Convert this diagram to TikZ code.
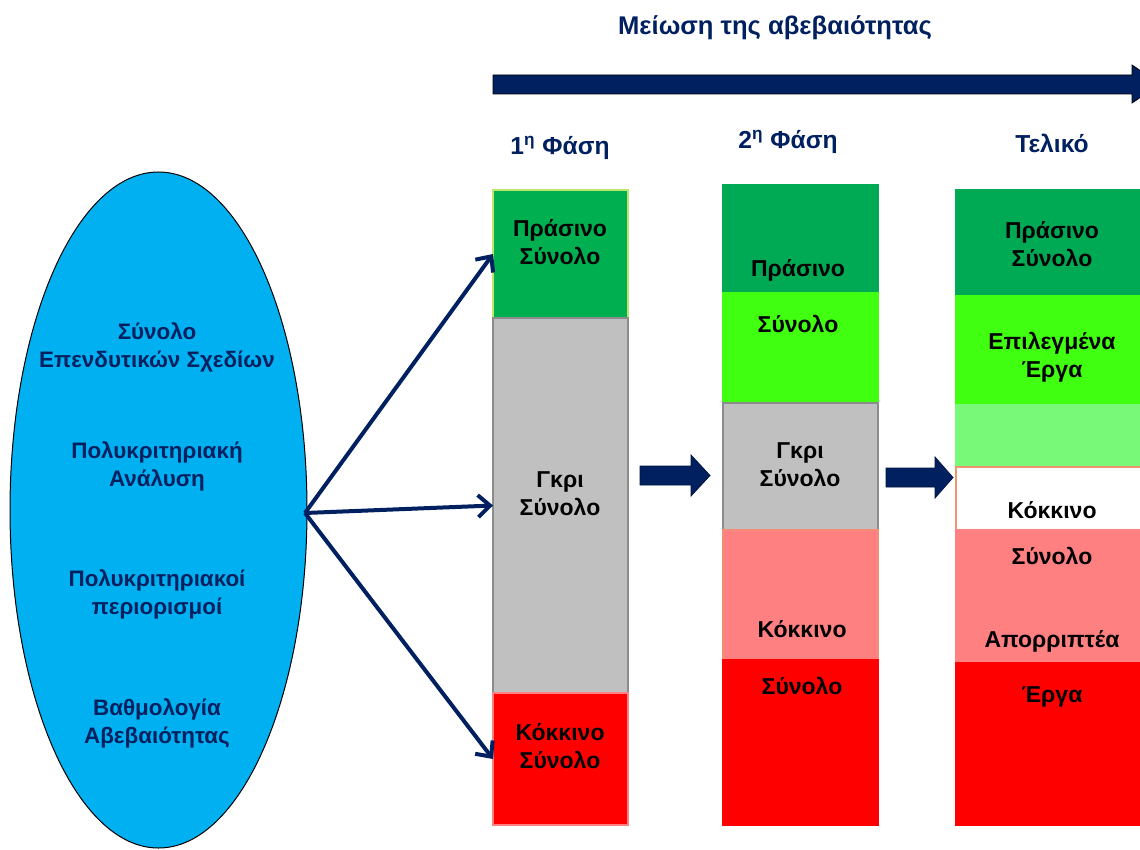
\documentclass[tikz,border=0pt]{standalone}
\usepackage{fontspec}
\setmainfont{Liberation Sans}
\usetikzlibrary{shapes.geometric,arrows.meta}

\definecolor{navy}{RGB}{0,32,96}
\definecolor{skyfill}{RGB}{0,176,240}
\definecolor{greenA}{RGB}{0,176,80}
\definecolor{greenB}{RGB}{0,170,84}
\definecolor{limegreen}{RGB}{64,255,16}
\definecolor{palegreen}{RGB}{120,250,120}
\definecolor{greyfill}{RGB}{192,192,192}
\definecolor{greyline}{RGB}{140,140,140}
\definecolor{salmon}{RGB}{255,128,128}
\definecolor{redfill}{RGB}{255,0,0}
\definecolor{tanline}{RGB}{235,150,110}
\definecolor{yelline}{RGB}{190,230,110}

% a block given by its corners (x1,y1) top-left and (x2,y2) bottom-right
\newcommand\blockrect[6]{%
  \node[blockbox,#6,anchor=north west,
        minimum width={(#4-#2)*0.5pt},minimum height={(#5-#3)*0.5pt}]
        (#1) at (#2,#3) {};}

\begin{document}
\begin{tikzpicture}[x=0.5pt,y=-0.5pt,
  blockbox/.style={rectangle,inner sep=0pt,outer sep=0pt,line width=0.6pt},
  lbl/.style={font=\bfseries\fontsize{11.5}{14}\selectfont,align=center,inner sep=0pt,text=black},
  navylbl/.style={lbl,text=navy,font=\bfseries\fontsize{12.3}{14}\selectfont},
  elllbl/.style={font=\bfseries\fontsize{11.2}{14}\selectfont,align=center,inner sep=0pt,text=navy},
  fan/.style={draw=navy,line width=2pt,-{Straight Barb[length=6pt,width=11pt,line width=2pt]}},
  blockarrow/.style={fill=navy,draw=navy!70!black,line width=0.4pt}]

\useasboundingbox (0,0) rectangle (1140,850);
\clip (0,0) rectangle (1140,850);

% heading and the long arrow under it
\node[navylbl,font=\bfseries\fontsize{12.8}{14}\selectfont] (title) at (775,28) {Μείωση της αβεβαιότητας};
\fill[navy,draw=black,line width=0.4pt]
  (493,75) -- (1132,75) -- (1132,65) -- (1160,84) -- (1132,103) -- (1132,94) -- (493,94) -- cycle;

\node[navylbl] (ph1) at (560,148) {1\textsuperscript{η} Φάση};
\node[navylbl] (ph2) at (788,142) {2\textsuperscript{η} Φάση};
\node[navylbl] (ph3) at (1052,143) {Τελικό};

% the set of plans
\node[ellipse,draw=black,line width=0.5pt,fill=skyfill,inner sep=0pt,
      minimum width=148.5pt,minimum height=338pt] (plans) at (158.5,510) {};
\node[elllbl] (e1) at (157,347) {Σύνολο\\Επενδυτικών Σχεδίων};
\node[elllbl] (e2) at (157,466) {Πολυκριτηριακή\\Ανάλυση};
\node[elllbl] (e3) at (157,594) {Πολυκριτηριακοί\\περιορισμοί};
\node[elllbl] (e4) at (157,723) {Βαθμολογία\\Αβεβαιότητας};
\coordinate (fanorigin) at (305,513);

% first phase
\blockrect{g1}{493}{190}{628}{318}{fill=greenA,draw=yelline}
\blockrect{y1}{493}{318}{628}{693}{fill=greyfill,draw=greyline}
\blockrect{r1}{493}{693}{628}{825}{fill=redfill,draw=salmon}

% second phase
\blockrect{g2}{723}{185}{878}{293}{fill=greenB,draw=greenB}
\blockrect{l2}{723}{293}{878}{403}{fill=limegreen,draw=limegreen}
\blockrect{y2}{723}{403}{878}{530}{fill=greyfill,draw=greyline}
\blockrect{s2}{723}{530}{878}{660}{fill=salmon,draw=tanline!60!salmon}
\blockrect{r2}{723}{660}{878}{825}{fill=redfill,draw=redfill}

% final result
\blockrect{g3}{956}{190}{1150}{296}{fill=greenB,draw=greenB}
\blockrect{l3}{956}{296}{1150}{405}{fill=limegreen,draw=limegreen}
\blockrect{p3}{956}{405}{1150}{467}{fill=palegreen,draw=palegreen}
\blockrect{w3}{956}{467}{1150}{530}{fill=white,draw=tanline}
\blockrect{s3}{956}{530}{1150}{663}{fill=salmon,draw=salmon}
\blockrect{r3}{956}{663}{1150}{825}{fill=redfill,draw=redfill}

% labels of the blocks
\node[lbl] (tg1) at (560,242) {Πράσινο\\Σύνολο};
\node[lbl] (ty1) at (560,494) {Γκρι\\Σύνολο};
\node[lbl] (tr1) at (560,746) {Κόκκινο\\Σύνολο};

\node[lbl] (tg2) at (798,270) {Πράσινο};
\node[lbl] (tl2) at (798,324) {Σύνολο};
\node[lbl] (ty2) at (800,465) {Γκρι\\Σύνολο};
\node[lbl] (ts2) at (802,629) {Κόκκινο};
\node[lbl] (tr2) at (802,686) {Σύνολο};

\node[lbl] (tg3) at (1052,244) {Πράσινο\\Σύνολο};
\node[lbl] (tl3) at (1052,357) {Επιλεγμένα\\Έργα};
\node[lbl] (tw3) at (1052,510) {Κόκκινο};
\node[lbl] (ts3a) at (1052,556) {Σύνολο};
\node[lbl] (ts3b) at (1052,641) {Απορριπτέα};
\node[lbl] (tr3) at (1052,697) {Έργα};

% fan of arrows into the first phase
\draw[fan] (fanorigin) -- (g1.west);
\draw[fan] (fanorigin) -- (y1.west);
\draw[fan] (fanorigin) -- (r1.west);

% block arrows between the phases
\filldraw[blockarrow] (640,466) -- (691,466) -- (691,455) -- (710,475.5) -- (691,496) -- (691,485) -- (640,485) -- cycle;
\filldraw[blockarrow] (886,468) -- (935,468) -- (935,457) -- (953,477.5) -- (935,498) -- (935,487) -- (886,487) -- cycle;

\end{tikzpicture}
\end{document}
